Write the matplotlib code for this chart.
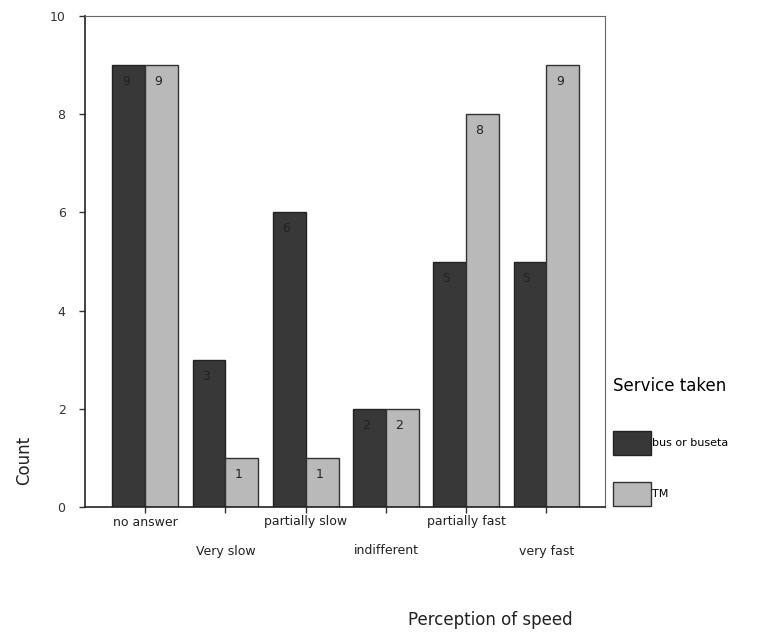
import matplotlib
matplotlib.use("Agg")
import matplotlib.pyplot as plt
import numpy as np

categories = ["no answer", "Very slow", "partially slow", "indifferent", "partially fast", "very fast"]
bus = [9, 3, 6, 2, 5, 5]
tm = [9, 1, 1, 2, 8, 9]
series_names = ["bus or buseta", "TM"]
yticks = [0, 2, 4, 6, 8, 10]

dark = "#383838"
light = "#b9b9b9"

fig = plt.figure(figsize=(7.67, 6.32), dpi=100)
W, H = 767, 632
ax = fig.add_axes([85 / W, 1 - 507 / H, (605 - 85) / W, (507 - 16) / H])

x = np.arange(len(categories))
w = 0.41
b1 = ax.bar(x - w / 2, bus, w, color=dark, edgecolor="#222222", linewidth=1.0, label=series_names[0])
b2 = ax.bar(x + w / 2, tm, w, color=light, edgecolor="#333333", linewidth=1.0, label=series_names[1])

for bars, vals in ((b1, bus), (b2, tm)):
    for r, v in zip(bars, vals):
        ax.annotate(str(v), (r.get_x() + r.get_width() / 2, v), xytext=(-3, -10),
                    textcoords="offset pixels", ha="center", va="top", fontsize=9, color="#222222")

ax.set_xlim(-0.75, 5.73)
ax.set_ylim(0, 10)
ax.set_yticks(yticks)
ax.set_yticklabels([str(t) for t in yticks], fontsize=9)
ax.set_xticks(x)
ax.set_xticklabels([])
for i, c in enumerate(categories):
    ax.annotate(c, (x[i], 0), xytext=(0, -15 if i % 2 == 0 else -44), textcoords="offset pixels",
                ha="center", va="center", fontsize=9, color="#222222", annotation_clip=False)
ax.tick_params(axis="both", direction="out", length=4, width=1, colors="#333333")
ax.tick_params(axis="y", pad=10)
for s in ["top", "right"]:
    ax.spines[s].set_color("#666666")
for s in ["left", "bottom"]:
    ax.spines[s].set_color("#222222")
    ax.spines[s].set_linewidth(1.2)

fig.text(490 / W, 1 - 620 / H, "Perception of speed", ha="center", va="center", fontsize=12, color="#222222")
fig.text(24 / W, 1 - 460 / H, "Count", ha="center", va="center", rotation=90, fontsize=12, color="#222222")

leg = ax.legend(loc="upper left", bbox_to_anchor=(613 / W, 1 - 377 / H), bbox_transform=fig.transFigure,
                title="Service taken", frameon=False, fontsize=8, title_fontsize=12,
                handlelength=3.4, handleheight=2.9, handletextpad=0.1, labelspacing=2.45,
                borderaxespad=0, borderpad=0, alignment="left")
leg._legend_box.sep = 26

fig.savefig("out.png", dpi=100)
